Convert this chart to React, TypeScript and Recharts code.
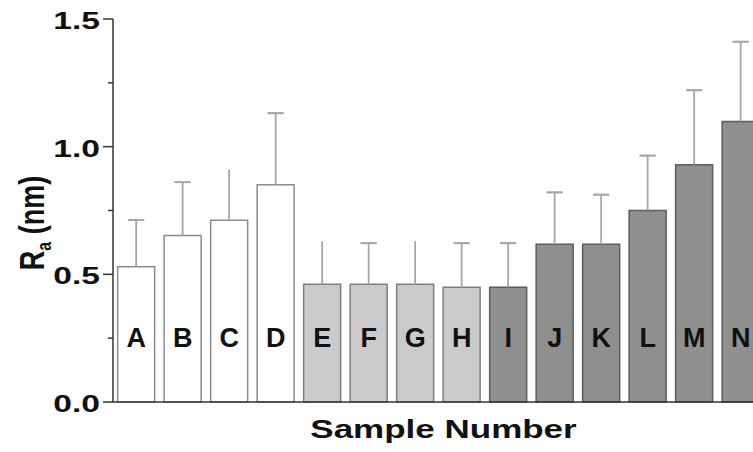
import { Bar, BarChart, Cell, ErrorBar, LabelList, XAxis, YAxis } from "recharts";

const categories = ["A", "B", "C", "D", "E", "F", "G", "H", "I", "J", "K", "L", "M", "N"];
const meanRa = [0.53, 0.652, 0.712, 0.851, 0.461, 0.461, 0.461, 0.449, 0.449, 0.618, 0.618, 0.75, 0.929, 1.099];
const sdRa = [0.183, 0.209, 0.198, 0.28, 0.169, 0.161, 0.169, 0.173, 0.173, 0.203, 0.194, 0.215, 0.292, 0.312];
const hasCap = [true, true, false, true, false, true, false, true, true, true, true, true, true, true];
const groups = ["white", "white", "white", "white", "light", "light", "light", "light", "dark", "dark", "dark", "dark", "dark", "dark"];
const yTicks = [0, 0.25, 0.5, 0.75, 1, 1.25, 1.5];

const fills: Record<string, string> = { white: "#ffffff", light: "#cbcbcb", dark: "#8f8f8f" };
const strokes: Record<string, string> = { white: "#8c8c8c", light: "#7e7e7e", dark: "#5c5c5c" };

const data = categories.map((name, i) => ({
  name,
  ra: meanRa[i],
  stem: [0, sdRa[i]],
  cap: hasCap[i] ? [-sdRa[i], sdRa[i]] : undefined,
  group: groups[i],
}));

const font = '"Liberation Sans", Arial, sans-serif';

function YTick({ x, y, payload }: any) {
  const major = Number.isInteger(payload.value * 2);
  return (
    <g>
      <line x1={major ? x + 3 : x + 8} x2={x + 13} y1={y} y2={y} stroke="#333" strokeWidth={1.5} />
      {major && (
        <text
          transform={`translate(${x},${y + 10}) scale(1.4,1)`}
          textAnchor="end"
          fontFamily={font}
          fontWeight="bold"
          fontSize={24}
          fill="#111"
        >
          {payload.value.toFixed(1)}
        </text>
      )}
    </g>
  );
}

export default function App() {
  return (
    <div style={{ position: "fixed", left: 0, top: 0, width: 753, height: 452, overflow: "hidden", background: "#fff" }}>
      <BarChart
        width={764}
        height={452}
        data={data}
        margin={{ top: 19, right: 0, left: 0, bottom: 0 }}
        barCategoryGap="10%"
      >
        <XAxis
          dataKey="name"
          tick={false}
          tickLine={false}
          height={50}
          axisLine={{ stroke: "#333", strokeWidth: 1.5 }}
          label={{
            content: ({ viewBox }: any) => (
              <text
                transform={`translate(${viewBox.x + viewBox.width / 2 + 5},438) scale(1.4,1)`}
                textAnchor="middle"
                fontFamily={font}
                fontWeight="bold"
                fontSize={25}
                fill="#111"
              >
                Sample Number
              </text>
            ),
          }}
        />
        <YAxis
          width={113}
          domain={[0, 1.5]}
          ticks={yTicks}
          interval={0}
          tickLine={false}
          tickSize={10}
          tickMargin={3}
          axisLine={{ stroke: "#333", strokeWidth: 1.5 }}
          tick={<YTick />}
          label={{
            content: () => (
              <text
                transform="translate(44,223) rotate(-90) scale(1,1.3)"
                textAnchor="middle"
                fontFamily={font}
                fontWeight="bold"
                fontSize={27}
                fill="#111"
              >
                R
                <tspan fontSize={16} dy={5}>a</tspan>
                <tspan dy={-5}> (nm)</tspan>
              </text>
            ),
          }}
        />
        <Bar dataKey="ra" isAnimationActive={false} strokeWidth={1.5}>
          {data.map((d) => (
            <Cell key={d.name} fill={fills[d.group]} stroke={strokes[d.group]} />
          ))}
          <ErrorBar dataKey="stem" width={0} stroke="#a6a6a6" strokeWidth={1.8} isAnimationActive={false} />
          <ErrorBar dataKey="cap" width={8} stroke="#a6a6a6" strokeWidth={1.8} isAnimationActive={false} />
          <LabelList
            dataKey="name"
            content={(p: any) => (
              <text
                x={p.x + p.width / 2}
                y={p.y + p.height - 55}
                textAnchor="middle"
                fontFamily={font}
                fontWeight="bold"
                fontSize={27}
                fill="#111"
              >
                {p.value}
              </text>
            )}
          />
        </Bar>
      </BarChart>
    </div>
  );
}
